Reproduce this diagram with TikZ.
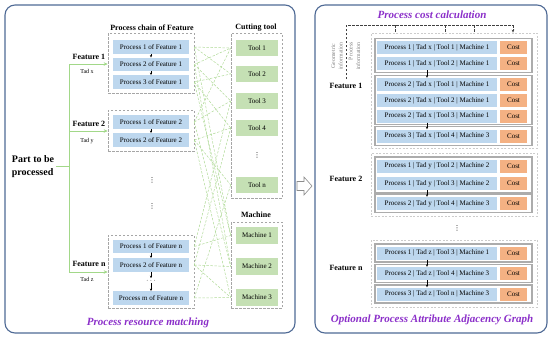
\documentclass[tikz,border=0pt]{standalone}
\usepackage{fontspec}
\setmainfont{Liberation Serif}
\newfontfamily\djv{DejaVu Sans}
\usetikzlibrary{arrows.meta}
\definecolor{pblue}{HTML}{BDD7EE}
\definecolor{pgreen}{HTML}{C5E0B4}
\definecolor{porange}{HTML}{F4B183}
\definecolor{purp}{HTML}{8B2FC9}
\definecolor{panelc}{HTML}{4F6A95}
\definecolor{lgreen}{HTML}{B0DA98}
\definecolor{mgreen}{HTML}{A2D889}
\newcommand\costrow[3]{\node[rowbox] (#1) at (437,#2) {#3}; \node[costbox] (#1c) at (513.5,#2) {Cost};}
\newcommand\myvd{{\djv ⋮}}
\begin{document}
\begin{tikzpicture}[x=1pt,y=-1pt,
  pbox/.style={fill=pblue, minimum width=76pt, minimum height=13.5pt, inner sep=0pt, font=\fontsize{7}{8}\selectfont},
  tbox/.style={fill=pgreen, minimum width=42pt, minimum height=16.5pt, inner sep=0pt, font=\fontsize{7}{8}\selectfont},
  grp/.style={draw=gray!70, dash pattern=on 2.5pt off 1.5pt, line width=0.6pt, inner sep=0pt},
  rgrp/.style={draw=gray!40, dash pattern=on 2pt off 1.5pt, line width=0.7pt, inner sep=0pt, minimum width=166pt},
  subbox/.style={draw=gray!65, line width=1.1pt, inner sep=0pt, minimum width=157pt},
  rowbox/.style={fill=pblue, minimum width=120pt, minimum height=13pt, inner sep=0pt, font=\fontsize{7}{8}\selectfont},
  costbox/.style={fill=porange, minimum width=27pt, minimum height=13pt, inner sep=0pt, font=\fontsize{7}{8}\selectfont},
  flabel/.style={font=\bfseries\fontsize{8}{9}\selectfont, inner sep=0.5pt},
  tad/.style={font=\fontsize{6}{7}\selectfont, inner sep=0.5pt},
  ctitle/.style={font=\bfseries\fontsize{8}{9}\selectfont, inner sep=0.5pt},
  ptitle/.style={font=\bfseries\itshape\fontsize{11}{13}\selectfont, text=purp, inner sep=0.5pt},
  conn/.style={draw=lgreen, dash pattern=on 2.5pt off 1.5pt, line width=0.5pt},
  gline/.style={draw=mgreen, line width=0.8pt},
  garrow/.style={draw=mgreen, line width=0.8pt, -{Stealth[length=4pt,width=3.5pt]}},
  sarrow/.style={line width=0.5pt, -{Stealth[length=2.5pt,width=2.2pt]}},
  dline/.style={draw=black!75, dash pattern=on 2.5pt off 1.5pt, line width=0.7pt},
  rot/.style={font=\fontsize{5.8}{7.5}\selectfont, text=gray, inner sep=0pt, rotate=90},
  panel/.style={draw=panelc, line width=1.1pt, rounded corners=10pt},
  dotsn/.style={inner sep=0.5pt, font=\fontsize{7}{8}\selectfont}
]
\useasboundingbox (0,0) rectangle (550,338);

% panels
\draw[panel] (5,5) rectangle (295,333);
\draw[panel] (315,5) rectangle (547,333);
\draw[draw=gray!90, fill=white, line width=0.6pt] (297,181.5) -- (304,181.5) -- (304,177) -- (312,186) -- (304,195) -- (304,190.5) -- (297,190.5) -- cycle;

% ---------------- left panel ----------------
\node[ctitle] (pct) at (152,28) {Process chain of Feature};
\node[ctitle] (ctt) at (256,28) {Cutting tool};
\node[ctitle] (mct) at (256,215) {Machine};

\node[grp, minimum width=86pt, minimum height=60pt] (g1) at (151,63) {};
\node[grp, minimum width=86pt, minimum height=41pt] (g2) at (151,130.5) {};
\node[grp, minimum width=86pt, minimum height=73pt] (gn) at (151,271.5) {};
\node[grp, minimum width=51pt, minimum height=165pt] (tg) at (256.5,115.5) {};
\node[grp, minimum width=51pt, minimum height=86pt] (mg) at (256.5,265) {};

\node[pbox] (p11) at (151,47) {Process 1 of Feature 1};
\node[pbox] (p12) at (151,64.5) {Process 2 of Feature 1};
\node[pbox] (p13) at (151,82) {Process 3 of Feature 1};
\node[pbox] (p21) at (151,122) {Process 1 of Feature 2};
\node[pbox] (p22) at (151,140) {Process 2 of Feature 2};
\node[pbox] (pn1) at (151,246.5) {Process 1 of Feature n};
\node[pbox] (pn2) at (151,265) {Process 2 of Feature n};
\node[dotsn] (pdd) at (151,280.5) {$\cdots$};
\node[pbox] (pnm) at (151,298) {Process m of Feature n};

\draw[sarrow] (p11.south) -- (p12.north);
\draw[sarrow] (p12.south) -- (p13.north);
\draw[sarrow] (p21.south) -- (p22.north);
\draw[sarrow] (pn1.south) -- (pn2.north);
\draw[sarrow] (pn2.south) -- (pdd.north);
\draw[sarrow] (pdd.south) -- (pnm.north);

\node[dotsn] (vd1) at (152,180) {\myvd};
\node[dotsn] (vd2) at (152,206) {\myvd};

\node[tbox] (t1) at (257,48) {Tool 1};
\node[tbox] (t2) at (257,74) {Tool 2};
\node[tbox] (t3) at (257,101) {Tool 3};
\node[tbox] (t4) at (257,128) {Tool 4};
\node[dotsn] (tvd) at (257,155) {\myvd};
\node[tbox] (tn) at (257,185) {Tool n};
\node[tbox] (m1) at (257,235.5) {Machine 1};
\node[tbox] (m2) at (257,266.5) {Machine 2};
\node[tbox] (m3) at (257,297.5) {Machine 3};

% feature labels & green arrows
\node[font=\bfseries\fontsize{10}{13}\selectfont, align=left, inner sep=0pt] (part) at (33,166.5) {Part to be\\processed};
\coordinate (jp) at (69,166);
\coordinate (j1) at (69,64);
\coordinate (j2) at (69,131);
\coordinate (jn) at (69,272);
\draw[gline] (j1) -- (jn);
\draw[gline] ([xshift=2pt]part.east |- jp) -- (jp);
\draw[garrow] (j1) -- (j1 -| g1.west);
\draw[garrow] (j2) -- (j2 -| g2.west);
\draw[garrow] (jn) -- (jn -| gn.west);
\node[flabel] (f1) at (89,57) {Feature 1};
\node[tad] (tx) at (87,71) {Tad x};
\node[flabel] (f2) at (89,124) {Feature 2};
\node[tad] (ty) at (87,141) {Tad y};
\node[flabel] (fn) at (89,264) {Feature n};
\node[tad] (tz) at (87,279) {Tad z};

% matching connectors
\foreach \p/\g/\t/\tgp in {p11/g1/t1/tg, p11/g1/t2/tg, p11/g1/m1/mg,
  p12/g1/t1/tg, p12/g1/t3/tg, p12/g1/m2/mg,
  p13/g1/t2/tg, p13/g1/t4/tg, p13/g1/m1/mg,
  p21/g2/t1/tg, p21/g2/t3/tg, p21/g2/m2/mg,
  p22/g2/t4/tg, p22/g2/tn/tg, p22/g2/m3/mg,
  pn1/gn/t3/tg, pn1/gn/m1/mg,
  pn2/gn/t4/tg, pn2/gn/m2/mg, pn2/gn/m3/mg,
  pnm/gn/tn/tg, pnm/gn/m3/mg}
  \draw[conn] (\g.east |- \p) -- (\tgp.west |- \t);

\node[ptitle] (prm) at (148,323) {Process resource matching};

% ---------------- right panel ----------------
\node[ptitle] (pcc) at (432,15) {Process cost calculation};

\node[rgrp, minimum height=115pt] (rg1) at (454,90.5) {};
\node[rgrp, minimum height=63pt] (rg2) at (454,184.5) {};
\node[rgrp, minimum height=67pt] (rgn) at (454,273.5) {};

\node[subbox, minimum height=34pt] (s1a) at (453.5,55.5) {};
\node[subbox, minimum height=49pt] (s1b) at (453.5,100) {};
\node[subbox, minimum height=19pt] (s1c) at (453.5,136) {};
\node[subbox, minimum height=36pt] (s2a) at (453.5,175) {};
\node[subbox, minimum height=18.5pt] (s2b) at (453.5,203.5) {};
\node[subbox, minimum height=18pt] (sna) at (453.5,253) {};
\node[subbox, minimum height=18pt] (snb) at (453.5,273.5) {};
\node[subbox, minimum height=18pt] (snc) at (453.5,294) {};

\costrow{r11}{47.5}{Process 1 | Tad x | Tool 1 | Machine 1}
\costrow{r12}{63.5}{Process 1 | Tad x | Tool 2 | Machine 1}
\costrow{r13}{84.5}{Process 2 | Tad x | Tool 1 | Machine 1}
\costrow{r14}{100.5}{Process 2 | Tad x | Tool 2 | Machine 1}
\costrow{r15}{116}{Process 2 | Tad x | Tool 3 | Machine 1}
\costrow{r16}{136}{Process 3 | Tad x | Tool 4 | Machine 3}
\costrow{r21}{166}{Process 1 | Tad y | Tool 2 | Machine 2}
\costrow{r22}{183.5}{Process 1 | Tad y | Tool 3 | Machine 2}
\costrow{r23}{203.5}{Process 2 | Tad y | Tool 4 | Machine 3}
\costrow{rn1}{253}{Process 1 | Tad z | Tool 3 | Machine 1}
\costrow{rn2}{273.5}{Process 2 | Tad z | Tool 4 | Machine 3}
\costrow{rn3}{294}{Process 3 | Tad z | Tool n | Machine 3}

\draw[sarrow] ([xshift=-10pt]r12.south) -- ([xshift=-10pt]r13.north);
\draw[sarrow] ([xshift=-10pt]r15.south) -- ([xshift=-10pt]r16.north);
\draw[sarrow] ([xshift=-10pt]r22.south) -- ([xshift=-10pt]r23.north);
\draw[sarrow] ([xshift=-10pt]rn1.south) -- ([xshift=-10pt]rn2.north);
\draw[sarrow] ([xshift=-10pt]rn2.south) -- ([xshift=-10pt]rn3.north);

\node[flabel] (rf1) at (346,86) {Feature 1};
\node[flabel] (rf2) at (346,179) {Feature 2};
\node[flabel] (rfn) at (346,268) {Feature n};
\node[dotsn] (rvd) at (457,228) {\myvd};

\node[rot, align=center] (geo) at (337,56) {Geometric\\information};
\node[rot, align=right] (pin) at (354.5,56) {Process\\information};

\coordinate (d0) at (346,79);
\coordinate (d1) at (346,25);
\coordinate (d2) at (513,25);
\draw[dline] (d0) -- (d1) -- (d2);
\draw[dline, -{Stealth[length=3pt,width=2.5pt]}] (d2) -- (d2 |- rg1.north);
\foreach \xx in {395,445,474} \draw[dline] (\xx,25) -- (\xx,33);

\node[ptitle] (opg) at (432,320) {Optional Process Attribute Adjacency Graph};
\end{tikzpicture}
\end{document}
